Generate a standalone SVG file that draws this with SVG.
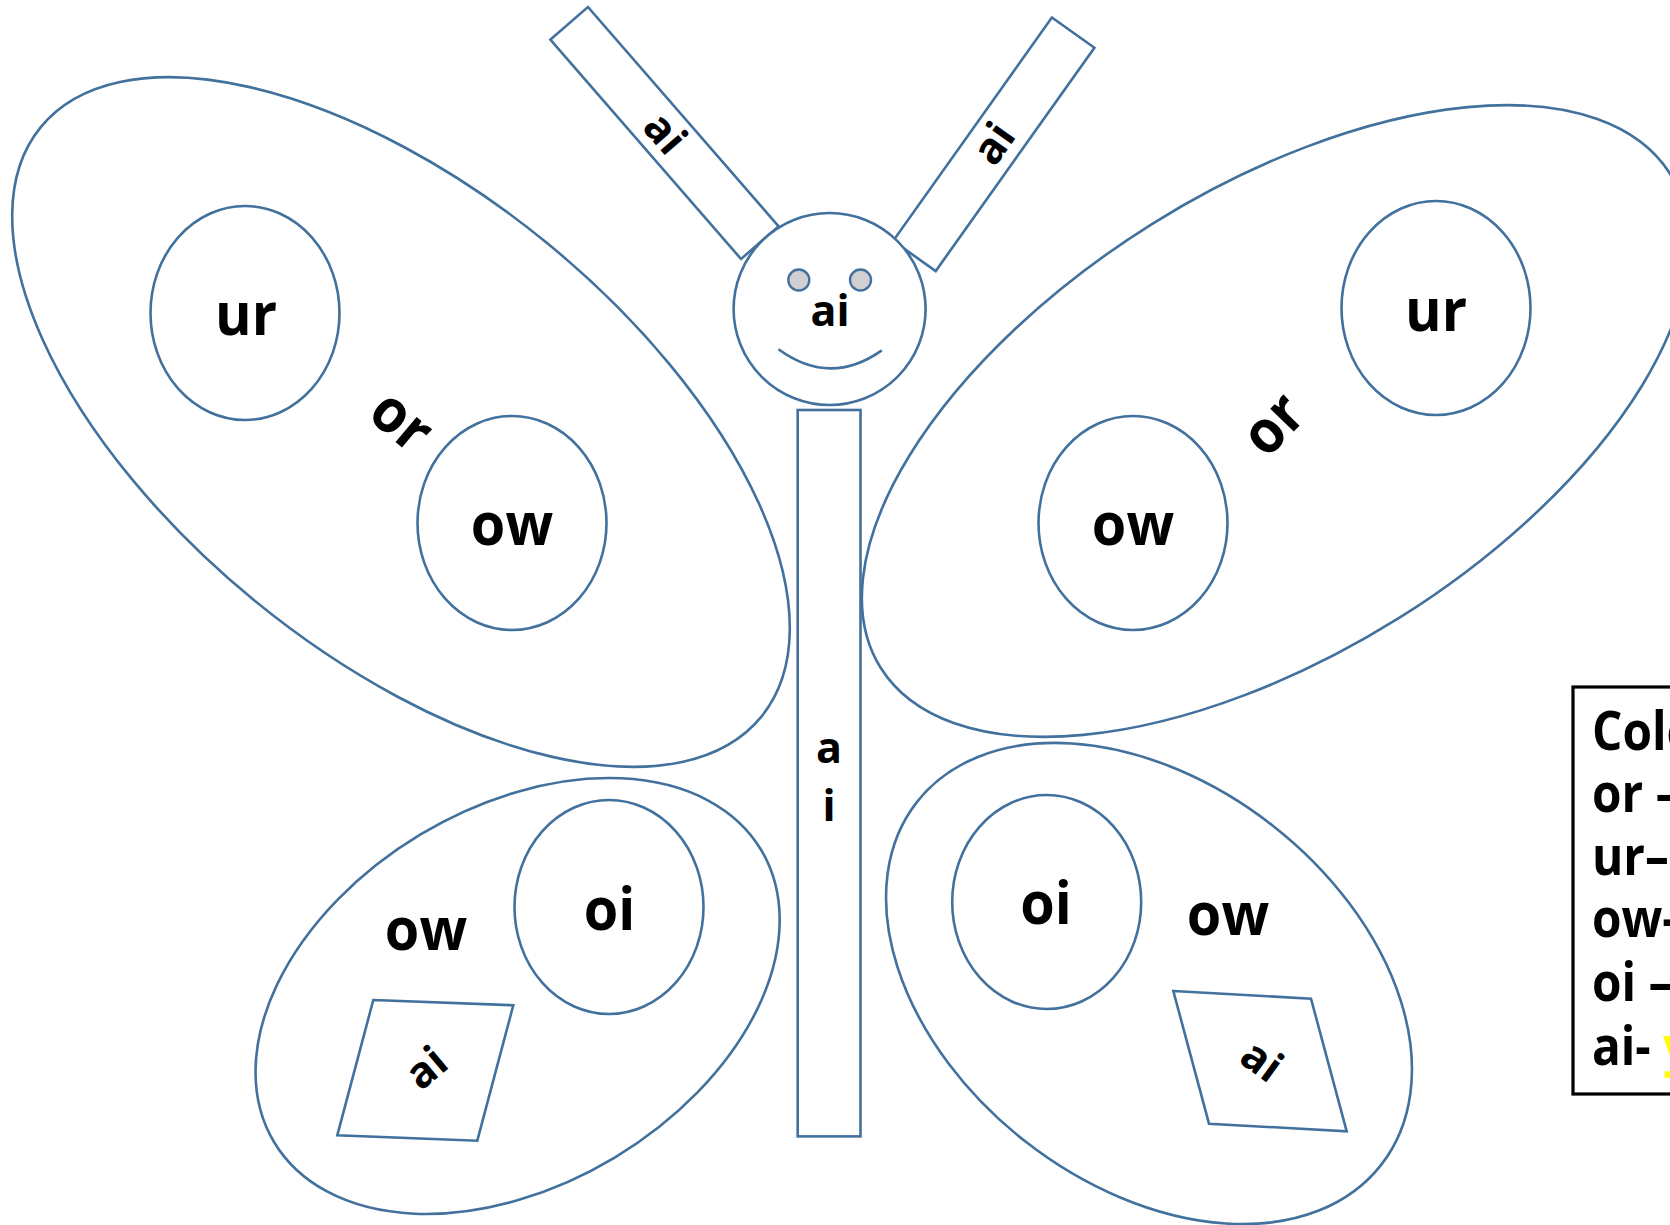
<svg xmlns="http://www.w3.org/2000/svg" width="1670" height="1225" viewBox="0 0 1670 1225">
<style>
.s{fill:#fff;stroke:#41719c;stroke-width:2.6}
.t{font-family:"Open Sans","Liberation Sans",sans-serif;font-weight:bold;fill:#000;text-anchor:middle}
.big{font-size:60px}
.sm{font-size:43px}
.lg{font-family:"Open Sans","Liberation Sans",sans-serif;font-weight:bold;font-size:53px;fill:#000}
</style>
<rect width="1670" height="1225" fill="#fff"/>
<g id="wing-upper-left">
<ellipse class="s" cx="401" cy="422" rx="465.5" ry="231" transform="rotate(39.3 401 422)"/>
</g>
<g id="wing-upper-right">
<ellipse class="s" cx="1275.5" cy="421" rx="465.6" ry="232.5" transform="rotate(-32 1275.5 421)"/>
</g>
<g id="wing-lower-left">
<ellipse class="s" cx="517.6" cy="996" rx="284" ry="188.5" transform="rotate(-31 517.6 996)"/>
</g>
<g id="wing-lower-right">
<ellipse class="s" cx="1149" cy="983.5" rx="294.6" ry="200.6" transform="rotate(38 1149 983.5)"/>
</g>
<g id="ul-ur">
<ellipse class="s" cx="245" cy="313" rx="94.5" ry="107"/>
<text class="t big" transform="translate(246 335) scale(0.93 1)">ur</text>
</g>
<g id="ul-ow">
<ellipse class="s" cx="512" cy="523" rx="94.5" ry="107"/>
<text class="t big" transform="translate(512 545) scale(0.93 1)">ow</text>
</g>
<g id="ul-or">
<text class="t big" transform="translate(399 424) rotate(40) scale(0.93 1)" x="0" y="16">or</text>
</g>
<g id="ur-ur">
<ellipse class="s" cx="1436" cy="308" rx="94.5" ry="107"/>
<text class="t big" transform="translate(1436 331) scale(0.93 1)">ur</text>
</g>
<g id="ur-ow">
<ellipse class="s" cx="1133" cy="523" rx="94.5" ry="107"/>
<text class="t big" transform="translate(1133 545) scale(0.93 1)">ow</text>
</g>
<g id="ur-or">
<text class="t big" transform="translate(1276 427) rotate(-46) scale(0.93 1)" x="0" y="16">or</text>
</g>
<g id="ll-ow">
<text class="t big" transform="translate(426 950) scale(0.93 1)">ow</text>
</g>
<g id="ll-oi">
<ellipse class="s" cx="609" cy="907" rx="94.5" ry="107"/>
<text class="t big" transform="translate(609.5 930) scale(0.93 1)">oi</text>
</g>
<g id="ll-ai">
<polygon class="s" points="373.3,1000 513.3,1005.3 477.3,1140.7 337.3,1135.3"/>
<text class="t sm" transform="translate(428 1070) rotate(-40)" x="0" y="12">ai</text>
</g>
<g id="lr-oi">
<ellipse class="s" cx="1046.7" cy="902" rx="94.5" ry="107"/>
<text class="t big" transform="translate(1046 924) scale(0.93 1)">oi</text>
</g>
<g id="lr-ow">
<text class="t big" transform="translate(1228 935) scale(0.93 1)">ow</text>
</g>
<g id="lr-ai">
<polygon class="s" points="1173.3,991 1311,998.7 1346.7,1131.3 1209,1123.7"/>
<text class="t sm" transform="translate(1260 1063) rotate(36)" x="0" y="12">ai</text>
</g>
<g id="antenna-left">
<rect class="s" x="-145.3" y="-24.9" width="290.6" height="49.8" transform="translate(664.5 133) rotate(49)"/>
<text class="t sm" transform="translate(663 135) rotate(49)" x="0" y="12">ai</text>
</g>
<g id="antenna-right">
<rect class="s" x="-137" y="-26.1" width="274" height="52.2" transform="translate(993.8 144.3) rotate(-54.6)"/>
<text class="t sm" transform="translate(996 145) rotate(-54.6)" x="0" y="12">ai</text>
</g>
<g id="head">
<circle class="s" cx="829.6" cy="309" r="96"/>
<ellipse cx="798.8" cy="280" rx="10.5" ry="10.5" fill="#d0d0d0" stroke="#41719c" stroke-width="2.4"/>
<ellipse cx="860.5" cy="280" rx="10.5" ry="10.5" fill="#d0d0d0" stroke="#41719c" stroke-width="2.4"/>
<path d="M778.5 349.3 Q830 387 881.8 350.4" fill="none" stroke="#41719c" stroke-width="2.6"/>
<text class="t sm" x="830" y="326">ai</text>
</g>
<g id="body">
<rect class="s" x="797.7" y="410" width="62.8" height="726.4"/>
<text class="t sm" x="829" y="763">a</text>
<text class="t sm" x="829" y="821">i</text>
</g>
<g id="legend">
<rect x="1573" y="687" width="120" height="407" fill="#fff" stroke="#000" stroke-width="3.2"/>
<g transform="translate(1592 0) scale(0.9 1)">
<text class="lg" x="0" y="750">Colo</text>
<text class="lg" x="0" y="812">or –</text>
<text class="lg" x="0" y="875">ur–</text>
<text class="lg" x="0" y="937">ow-</text>
<text class="lg" x="0" y="1001">oi –</text>
<text class="lg" x="0" y="1065">ai- <tspan fill="#ffff00">y</tspan></text>
</g>
</g>
<g id="connectors"></g>
</svg>
